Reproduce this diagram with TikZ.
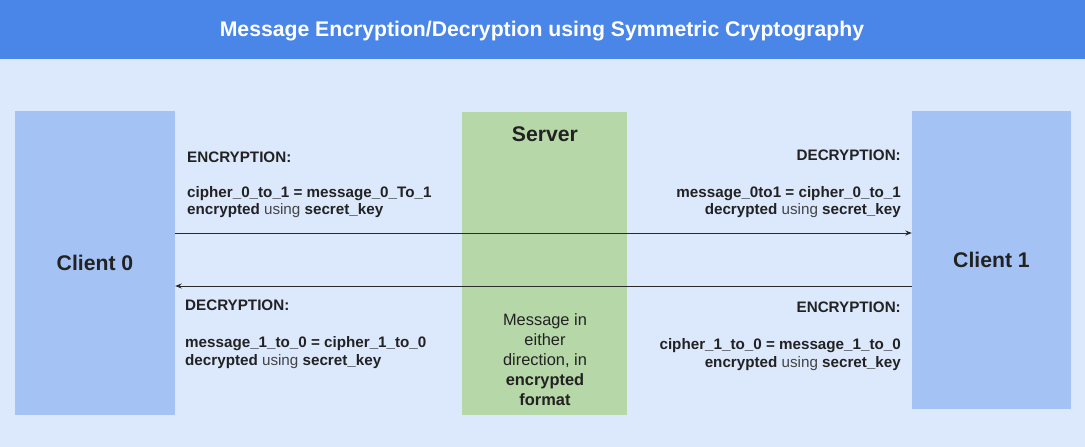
\documentclass[tikz,border=0pt]{standalone}
\usepackage{fontspec}
\setmainfont{Liberation Sans}
\usetikzlibrary{arrows.meta}
\definecolor{hdr}{HTML}{4A86E8}
\definecolor{bgc}{HTML}{DCE8FC}
\definecolor{cli}{HTML}{A4C2F4}
\definecolor{srv}{HTML}{B6D7A8}
\definecolor{txt}{HTML}{222222}
\definecolor{usg}{HTML}{444444}
\definecolor{arr}{HTML}{2A2A2A}
\tikzset{
  box/.style={draw=none, inner sep=0pt, text=txt},
  lbl/.style={inner sep=0pt, text=txt, font=\fontsize{15.2}{17}\selectfont\bfseries},
  big/.style={font=\fontsize{21.2}{25}\selectfont\bfseries},
  conn/.style={draw=arr, line width=1pt, -{Stealth[length=6.5pt,width=5pt]}},
}
\newcommand{\usg}{\textcolor{usg}{\mdseries using}}
\begin{document}
\begin{tikzpicture}[x=1pt,y=-1pt]
\useasboundingbox (0,0) rectangle (1085,447);
\fill[bgc] (0,0) rectangle (1085,447);
\fill[hdr] (0,0) rectangle (1085,59);
\node[inner sep=0pt, text=white, big] (title) at (542,31) {Message Encryption/Decryption using Symmetric Cryptography};

\node[box, fill=cli, minimum width=160pt, minimum height=304pt, big] (c0) at (95,263) {Client 0};
\node[box, fill=cli, minimum width=159pt, minimum height=298pt, big, text depth=0pt] (c1) at (991.5,260) {Client 1};
\node[box, fill=srv, minimum width=165pt, minimum height=303pt] (srv) at (544.5,263.5) {};
\node[inner sep=0pt, text=txt, big, anchor=base] (srvt) at (545,141) {Server};
\node[inner sep=0pt, text=txt, align=center, font=\fontsize{16.4}{20}\selectfont, anchor=north] (srvb) at (545,313) {Message in\\either\\direction, in\\\textbf{encrypted}\\\textbf{format}};

\coordinate (a1) at (0,233);
\coordinate (a2) at (0,286);
\draw[conn] (c0.east |- a1) -- (c1.west |- a1);
\draw[conn] (c1.west |- a2) -- (c0.east |- a2);

% upper left
\node[lbl, anchor=base west] (ul1) at (187,162) {ENCRYPTION:};
\node[lbl, anchor=base west] (ul2) at (187,197) {cipher\_0\_to\_1 = message\_0\_To\_1};
\node[lbl, anchor=base west] (ul3) at (187,214) {encrypted \usg{} secret\_key};
% upper right
\node[lbl, anchor=base east] (ur1) at (901,160) {DECRYPTION:};
\node[lbl, anchor=base east] (ur2) at (901,197) {message\_0to1 = cipher\_0\_to\_1};
\node[lbl, anchor=base east] (ur3) at (901,214) {decrypted \usg{} secret\_key};
% lower left
\node[lbl, anchor=base west] (ll1) at (185,310) {DECRYPTION:};
\node[lbl, anchor=base west] (ll2) at (185,347) {message\_1\_to\_0 = cipher\_1\_to\_0};
\node[lbl, anchor=base west] (ll3) at (185,365) {decrypted \usg{} secret\_key};
% lower right
\node[lbl, anchor=base east] (lr1) at (901,312) {ENCRYPTION:};
\node[lbl, anchor=base east] (lr2) at (901,349) {cipher\_1\_to\_0 = message\_1\_to\_0};
\node[lbl, anchor=base east] (lr3) at (901,367) {encrypted \usg{} secret\_key};
\end{tikzpicture}
\end{document}
